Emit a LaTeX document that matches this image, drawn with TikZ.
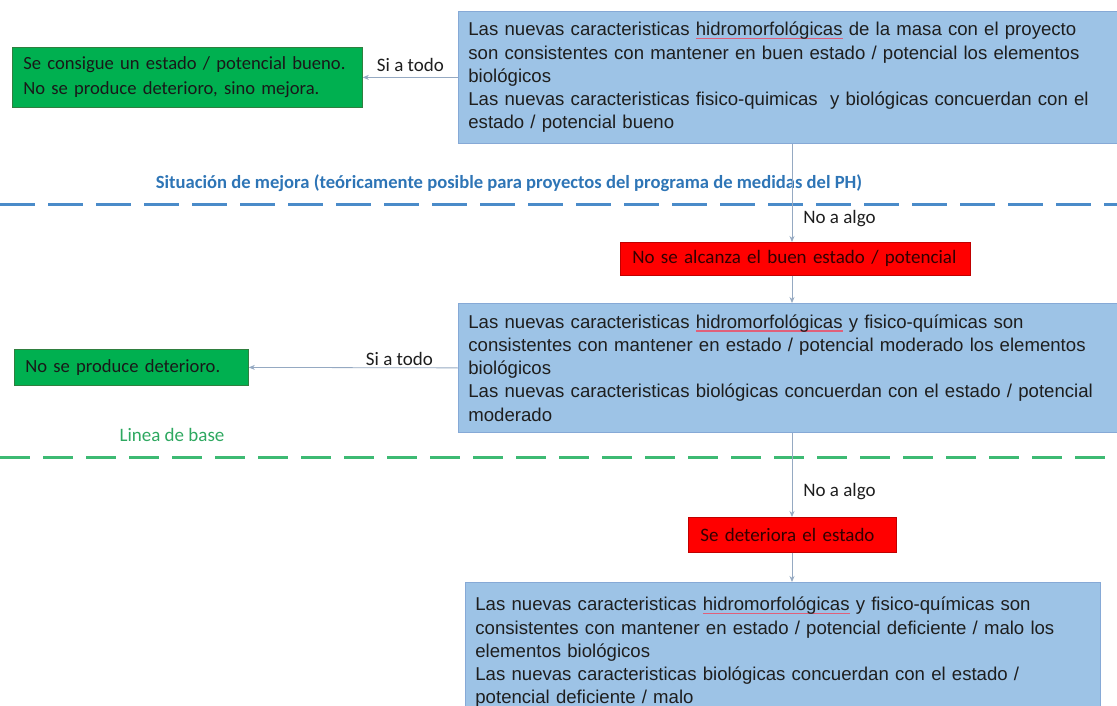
\documentclass[tikz,border=0pt]{standalone}
\usepackage{fontspec}
\setmainfont{Liberation Sans}
\newfontfamily\calib{Carlito}
\usetikzlibrary{arrows.meta,calc}

\definecolor{boxblue}{HTML}{9DC3E6}
\definecolor{boxblueline}{HTML}{86A9D6}
\definecolor{okgreen}{HTML}{00B050}
\definecolor{okgreenline}{HTML}{2F7F3F}
\definecolor{badred}{HTML}{FF0000}
\definecolor{badredline}{HTML}{C00000}
\definecolor{linkgray}{HTML}{95A9C2}
\definecolor{mejorablue}{HTML}{2E75B6}
\definecolor{dashblue}{HTML}{4A8BC9}
\definecolor{basegreen}{HTML}{3DBA73}
\definecolor{labelgreen}{HTML}{2EA860}
\definecolor{spellred}{HTML}{E0607A}
\definecolor{darktext}{HTML}{1E1E1E}

% spell-check style underline
\newsavebox\spellbox
\newcommand\spellmark[1]{\sbox\spellbox{#1}\rlap{\textcolor{spellred}{\rule[-3.5pt]{\wd\spellbox}{1.1pt}}}\usebox\spellbox}

\tikzset{
  nobreak/.style={execute at begin node={\hyphenpenalty=10000\relax}},
  infobox/.style={draw=boxblueline, fill=boxblue, line width=0.8pt, anchor=north west,
    inner xsep=10pt, inner ysep=3pt, align=left, text=darktext, nobreak,
    font=\fontsize{18.6}{23.3}\selectfont},
  okbox/.style={draw=okgreenline, fill=okgreen, line width=0.8pt, anchor=north west,
    inner xsep=11pt, inner ysep=2pt, align=left, text=black!90, nobreak,
    font=\calib\fontsize{18.6}{25}\selectfont},
  badbox/.style={draw=badredline, fill=badred, line width=0.6pt, anchor=north west,
    inner xsep=12pt, inner ysep=2pt, align=left, text=black!80!red, nobreak,
    font=\calib\fontsize{19}{23}\selectfont},
  link/.style={draw=linkgray, line width=0.8pt, -{Stealth[length=6pt,width=5pt]}},
  lbl/.style={font=\calib\fontsize{19}{23}\selectfont, text=darktext, inner sep=2pt},
  sepline/.style={line width=3pt},
}

\begin{document}
\begin{tikzpicture}[x=1pt,y=-1pt]
\useasboundingbox (0,0) rectangle (1117,706);
\clip (0,0) rectangle (1117,706);

% vertical axis of the flow
\coordinate (axis) at (792,0);

% separator lines and their captions
\coordinate (mejoraL) at (0,204);
\coordinate (mejoraR) at (1117,204);
\coordinate (baseL) at (0,457);
\coordinate (baseR) at (1117,457);
\draw[sepline, dashblue, dash pattern=on 35pt off 13pt] (mejoraL) -- (mejoraR);
\draw[sepline, basegreen, dash pattern=on 30pt off 13pt] (baseL) -- (baseR);
\node[font=\calib\bfseries\fontsize{18.6}{23}\selectfont, text=mejorablue] (mejoralbl) at (509,183)
  {Situación de mejora (teóricamente posible para proyectos del programa de medidas del PH)};
\node[font=\calib\fontsize{19}{23}\selectfont, text=labelgreen] (baselbl) at (172,435) {Linea de base};

% condition boxes
\node[infobox, minimum width=659pt, minimum height=132pt, text width=639pt] (mejora) at (458,11)
  {Las nuevas caracteristicas \spellmark{hidromorfológicas} de la masa con el proyecto\\
   son consistentes con mantener en buen estado / potencial los elementos\\
   biológicos\\
   Las nuevas caracteristicas fisico-quimicas\ \ y biológicas concuerdan con el\\
   estado / potencial bueno};

\node[infobox, minimum width=659pt, minimum height=129pt, text width=639pt] (moderado) at (458,303)
  {Las nuevas caracteristicas \spellmark{hidromorfológicas} y fisico-químicas son\\
   consistentes con mantener en estado / potencial moderado los elementos\\
   biológicos\\
   Las nuevas caracteristicas biológicas concuerdan con el estado / potencial\\
   moderado};

\node[infobox, minimum width=635pt, minimum height=140pt, text width=615pt] (deficiente) at (465,582)
  {Las nuevas caracteristicas \spellmark{hidromorfológicas} y fisico-químicas son\\
   consistentes con mantener en estado / potencial deficiente / malo los\\
   elementos biológicos\\
   Las nuevas caracteristicas biológicas concuerdan con el estado /\\
   potencial deficiente / malo\\[10pt]};

% outcome boxes
\node[okbox, minimum width=350pt, minimum height=60pt, text width=328pt] (logrado) at (12,47)
  {Se consigue un estado / potencial bueno.\\No se produce deterioro, sino mejora.};
\node[okbox, minimum width=234pt, minimum height=36pt, text width=212pt] (nodeterioro) at (14,349)
  {No se produce deterioro.};
\node[badbox, minimum width=350pt, minimum height=33pt, text width=326pt] (noalcanza) at (620,242)
  {No se alcanza el buen estado / potencial};
\node[badbox, minimum width=208pt, minimum height=35pt, text width=184pt] (deteriora) at (688,517)
  {Se deteriora el estado};

% connectors
\draw[link] (mejora.west) -- node[lbl, above, pos=0.5, yshift=3pt] {Si a todo} (logrado.east);
\draw[link] (moderado.west) -- node[lbl, above, pos=0.28] {Si a todo} (nodeterioro.east);
\draw[link] (mejora.south -| axis) -- node[lbl, pos=0.76, anchor=west, xshift=9pt] {No a algo} (noalcanza.north -| axis);
\draw[link] (noalcanza.south -| axis) -- (moderado.north -| axis);
\draw[link] (moderado.south -| axis) -- node[lbl, pos=0.7, anchor=west, xshift=9pt] {No a algo} (deteriora.north -| axis);
\draw[link] (deteriora.south -| axis) -- (deficiente.north -| axis);
\end{tikzpicture}
\end{document}
